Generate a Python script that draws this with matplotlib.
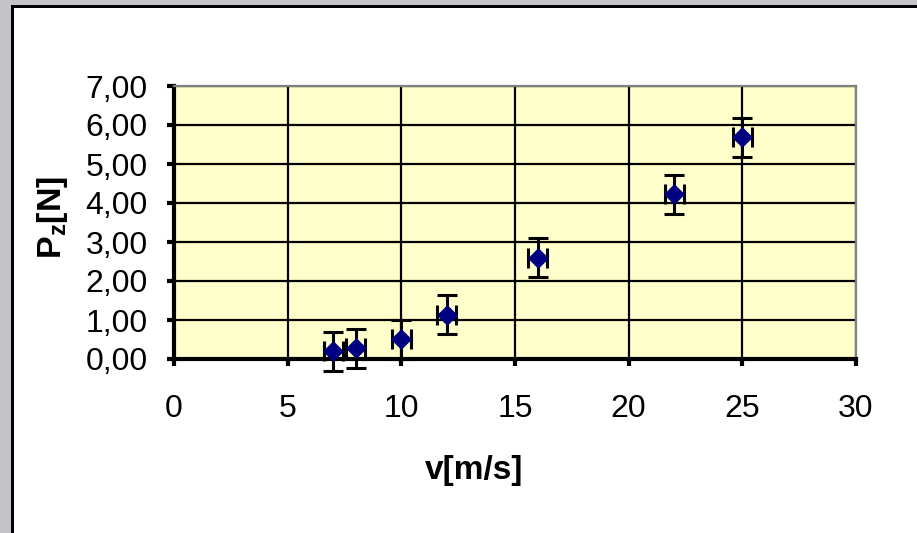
import numpy as np
import matplotlib
matplotlib.use("Agg")
from matplotlib import pyplot as plt
from matplotlib.patches import Rectangle
from matplotlib.ticker import FuncFormatter

v = [7, 8, 10, 12, 16, 22, 25]
pz = [0.20, 0.28, 0.51, 1.13, 2.59, 4.23, 5.69]
pz_err = [0.5, 0.5, 0.5, 0.5, 0.5, 0.5, 0.5]
v_err = [0.42, 0.42, 0.42, 0.42, 0.42, 0.42, 0.42]

x_ticks = [0, 5, 10, 15, 20, 25, 30]
y_ticks = [0, 1, 2, 3, 4, 5, 6, 7]

W, H = 917, 533
plt.rcParams['font.family'] = ['Liberation Sans', 'DejaVu Sans']

fig = plt.figure(figsize=(W / 100, H / 100), dpi=100)
fig.patch.set_facecolor('#c4c4c8')

# white chart area with black frame on top/left
fig.add_artist(Rectangle((12 / W, 0), 1, 1 - 6 / H, transform=fig.transFigure,
                         facecolor='white', edgecolor='none', zorder=0))
fig.add_artist(Rectangle((11 / W, 0), 3 / W, 1 - 5 / H, transform=fig.transFigure,
                         facecolor='black', edgecolor='none', zorder=1))
fig.add_artist(Rectangle((11 / W, 1 - 8 / H), 1, 3 / H, transform=fig.transFigure,
                         facecolor='black', edgecolor='none', zorder=1))

ax = fig.add_axes([174 / W, 1 - 359 / H, (856 - 174) / W, (359 - 86) / H])
ax.set_facecolor('#ffffcc')

ax.errorbar(v, pz, yerr=pz_err, xerr=v_err, fmt='none', ecolor='black',
            elinewidth=2.2, capsize=7.5, capthick=2.2, zorder=4, clip_on=False)
ax.plot(v, pz, 'D', color='#000080', markersize=10.5, markeredgecolor='#000080',
        markeredgewidth=0.5, zorder=5, clip_on=False)

ax.set_xlim(0, 30)
ax.set_ylim(0, 7)
ax.set_xticks(x_ticks)
ax.set_yticks(y_ticks)
ax.yaxis.set_major_formatter(FuncFormatter(lambda y, p: ('%.2f' % y).replace('.', ',')))
ax.grid(True, color='black', linewidth=1.6, zorder=1)
ax.set_axisbelow(True)

for s in ['left', 'bottom']:
    ax.spines[s].set_linewidth(3)
    ax.spines[s].set_color('black')
for s in ['top', 'right']:
    ax.spines[s].set_linewidth(1.6)
    ax.spines[s].set_color('#808080')

ax.tick_params(direction='out', length=5, width=3, labelsize=23)
ax.tick_params(axis='y', pad=14)
ax.tick_params(axis='x', pad=20)

ax.set_xlabel('v[m/s]', fontsize=24, fontweight='bold', va='center')
ax.xaxis.set_label_coords((474 - 174) / 682, -(471 - 359) / 273)
ax.set_ylabel(r'P$_\mathregular{z}$[N]', fontsize=24.5, fontweight='bold',
              va='center')
ax.yaxis.set_label_coords(-(174 - 52) / 682, (359 - 217) / 273)

fig.savefig('out.png', dpi=100, facecolor=fig.get_facecolor())
